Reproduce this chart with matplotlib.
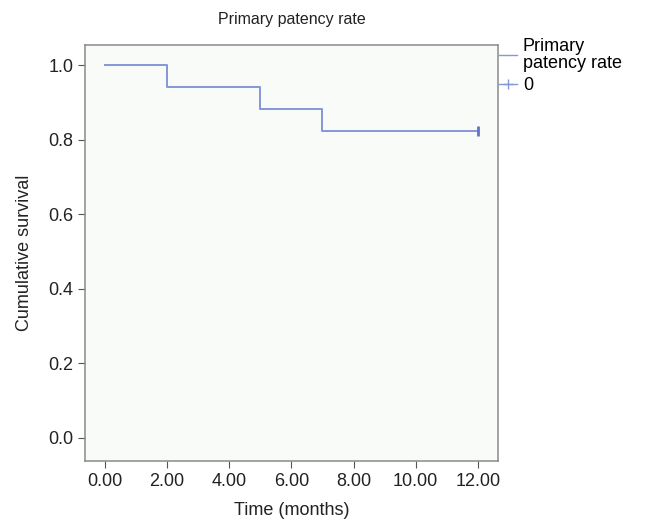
import matplotlib
matplotlib.use("Agg")
import matplotlib.pyplot as plt
from matplotlib.lines import Line2D

plt.rcParams['font.family'] = ['Liberation Sans', 'DejaVu Sans']

times = [0, 2, 5, 7, 12]
survival = [1.0, 0.941, 0.882, 0.824, 0.824]
censor_times = [12]
censor_surv = [0.824]
xticks = [0, 2, 4, 6, 8, 10, 12]
xticklabels = ["0.00", "2.00", "4.00", "6.00", "8.00", "10.00", "12.00"]
yticks = [0.0, 0.2, 0.4, 0.6, 0.8, 1.0]

line_color = "#8596da"
fig = plt.figure(figsize=(6.51, 5.23), dpi=100)
ax = fig.add_axes([0.1306, 0.1185, 0.634, 0.7955])
ax.set_facecolor("#f8fbf8")
ax.step(times, survival, where="post", color=line_color, lw=1.4)
ax.plot(censor_times, censor_surv, marker="|", color="#6073c8", ms=7, mew=2, ls="none")

ax.set_xlim(-0.64, 12.64)
ax.set_ylim(-0.062, 1.054)
ax.set_xticks(xticks)
ax.set_xticklabels(xticklabels)
ax.set_yticks(yticks)
ax.set_yticklabels([f"{v:.1f}" for v in yticks])
ax.tick_params(direction="out", length=5, color="#555555", labelsize=13, labelcolor="#222222")
for s in ax.spines.values():
    s.set_color("#8a8a8a")
    s.set_linewidth(1.1)
ax.set_xlabel("Time (months)", fontsize=13, color="#222222", labelpad=9)
ax.set_ylabel("Cumulative survival", fontsize=13, color="#222222", labelpad=11)
ax.set_title("Primary patency rate", fontsize=11.5, color="#222222", pad=15)

handles = [Line2D([0], [0], color=line_color, lw=1),
           Line2D([0], [0], color=line_color, marker="+", ms=7, lw=1)]
leg = fig.legend(handles, ["Primary\npatency rate", "0"], loc="upper left",
                 bbox_to_anchor=(0.767, 0.928), frameon=False, fontsize=13,
                 handlelength=1.0, handletextpad=0.3, labelspacing=0.3,
                 borderaxespad=0, borderpad=0.0)
for t in leg.get_texts():
    t.set_linespacing(1.0)
fig.savefig("out.png", dpi=100, facecolor="white")
